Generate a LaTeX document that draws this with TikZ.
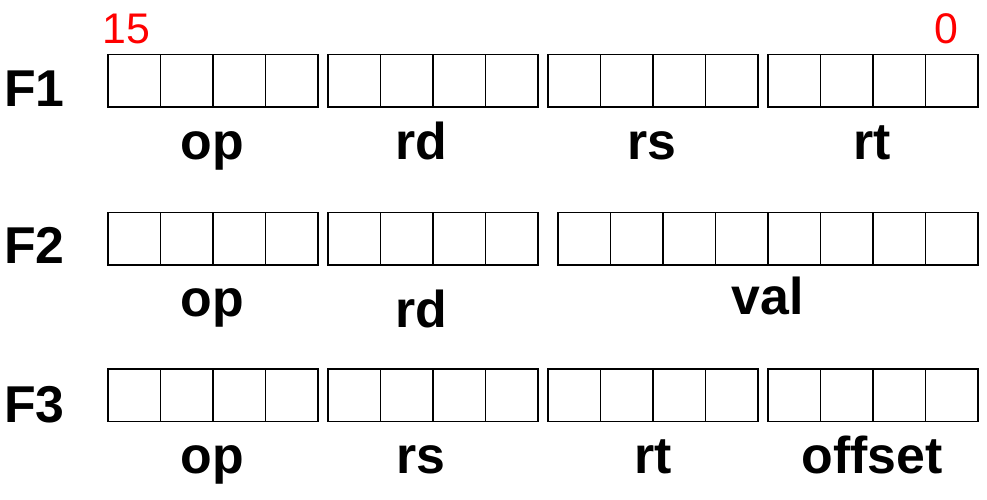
\documentclass[tikz,border=0pt]{standalone}
\usepackage{fontspec}
\setmainfont{Liberation Sans}
\usetikzlibrary{positioning}
\tikzstyle{cell} = [rectangle, 
draw=black, 
line width=1.5bp, 
minimum width=52.56bp, 
minimum height=52.5bp, 
inner sep=0pt, 
anchor=north west]
\tikzstyle{field} = [font=\fontsize{52}{52}\selectfont\bfseries, 
inner sep=0pt, 
anchor=base]
\tikzstyle{fmt} = [field, anchor=base west]
\tikzstyle{bitno} = [text=red, 
font=\fontsize{43}{43}\selectfont, 
inner sep=0pt, 
anchor=base]

\begin{document}
\begin{tikzpicture}[x=1bp, y=-1bp]
        \useasboundingbox (0,0) rectangle (987,500);

        % F1: op rd rs rt
        \foreach \g/\x in {0/107, 1/327, 2/547, 3/767} {
            \foreach \c in {0,...,3} {
                \pgfmathtruncatemacro\b{15-4*\g-\c}
                \node (f1b\b) [cell] at ({\x+\c*52.56},54) {};
            }
        }
        % F2: op rd val
        \foreach \g/\x in {0/107, 1/327} {
            \foreach \c in {0,...,3} {
                \pgfmathtruncatemacro\b{15-4*\g-\c}
                \node (f2b\b) [cell] at ({\x+\c*52.56},212) {};
            }
        }
        \foreach \c in {0,...,7} {
            \pgfmathtruncatemacro\b{7-\c}
            \node (f2b\b) [cell] at ({557+\c*52.56},212) {};
        }
        % F3: op rs rt offset
        \foreach \g/\x in {0/107, 1/327, 2/547, 3/767} {
            \foreach \c in {0,...,3} {
                \pgfmathtruncatemacro\b{15-4*\g-\c}
                \node (f3b\b) [cell] at ({\x+\c*52.56},368) {};
            }
        }

        \node (msb) [bitno, anchor=base west] at (102,44) {15};
        \node (lsb) [bitno] at (946,44) {0};

        \node (fmt1) [fmt] at (4,107) {F1};
        \node (fmt2) [fmt] at (4,264) {F2};
        \node (fmt3) [fmt] at (4,422) {F3};

        \node (f1op) [field] at (212,160) {op};
        \node (f1rd) [field] at (421.5,160) {rd};
        \node (f1rs) [field] at (652,160) {rs};
        \node (f1rt) [field] at (872.5,160) {rt};

        \node (f2op) [field] at (212,317) {op};
        \node (f2rd) [field] at (421.5,328) {rd};
        \node (f2val) [field] at (767.5,315) {val};

        \node (f3op) [field] at (212,473) {op};
        \node (f3rs) [field] at (421,473) {rs};
        \node (f3rt) [field] at (653,473) {rt};
        \node (f3off) [field] at (872,473) {offset};

    \end{tikzpicture}
\end{document}
